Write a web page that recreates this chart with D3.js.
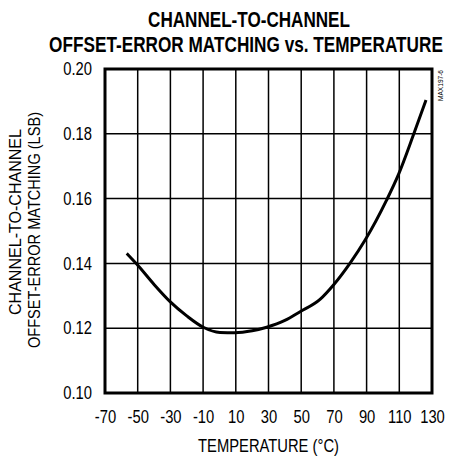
<!DOCTYPE html>
<html><head><meta charset="utf-8">
<script src="https://cdn.jsdelivr.net/npm/d3@7"></script>
<style>
body{margin:0;background:#fff;}
text{font-family:"Liberation Sans",Arial,sans-serif;fill:#000;}
</style></head>
<body>
<svg id="c" width="451" height="457"></svg>
<script>
const titleLines = ["CHANNEL-TO-CHANNEL", "OFFSET-ERROR MATCHING vs. TEMPERATURE"];
const yTitleLines = ["CHANNEL-TO-CHANNEL", "OFFSET-ERROR MATCHING (LSB)"];
const xTitle = "TEMPERATURE (°C)";
const xTicks = [-70, -50, -30, -10, 10, 30, 50, 70, 90, 110, 130];
const yTicks = [0.10, 0.12, 0.14, 0.16, 0.18, 0.20];
const temps  = [-56.7, -50.6, -40, -30.2, -20, -9.9, 0.3, 9.5, 20, 28.9, 40, 49.3, 61.5, 70, 79.9, 89.1, 102.3, 109.4, 118.6, 126.3];
const values = [0.1431, 0.1398, 0.1335, 0.1282, 0.1238, 0.1203, 0.1187, 0.1186, 0.1192, 0.1203, 0.1224, 0.1251, 0.1289, 0.1335, 0.1401, 0.1472, 0.1596, 0.1673, 0.1796, 0.1904];
const tag = "MAX197-6";

const L = 105, R = 432, T = 69, B = 393;
const SQ = 0.82; // condensed look
const svg = d3.select("#c");
const x = d3.scaleLinear().domain([-70, 130]).range([L, R]);
const y = d3.scaleLinear().domain([0.10, 0.20]).range([B, T]);

function condense(sel, k) {
  sel.each(function () {
    const w = this.getComputedTextLength();
    this.setAttribute("textLength", w * (k || SQ));
    this.setAttribute("lengthAdjust", "spacingAndGlyphs");
  });
}
function fitTo(sel, lens) {
  sel.each(function (d, i) {
    this.setAttribute("textLength", lens[i]);
    this.setAttribute("lengthAdjust", "spacingAndGlyphs");
  });
}

// title (scaled horizontally to a condensed width)
const titleCx = [249, 246], titleW = [202, 394];
svg.append("g").selectAll("text").data(titleLines).join("text")
  .attr("text-anchor", "middle").attr("font-size", 22).attr("font-weight", "bold")
  .text(d => d)
  .each(function (d, i) {
    const w = this.getComputedTextLength();
    this.setAttribute("transform", `translate(${titleCx[i]},${27 + i * 25}) scale(${titleW[i] / w},1)`);
  });

// grid
svg.append("g").selectAll("line").data(xTicks.slice(1, -1)).join("line")
  .attr("x1", d => x(d)).attr("x2", d => x(d)).attr("y1", T).attr("y2", B)
  .attr("stroke", "#000").attr("stroke-width", 1.5);
svg.append("g").selectAll("line").data(yTicks.slice(1, -1)).join("line")
  .attr("y1", d => y(d)).attr("y2", d => y(d)).attr("x1", L).attr("x2", R)
  .attr("stroke", "#000").attr("stroke-width", 1.5);

// frame
svg.append("rect").attr("x", L).attr("y", T).attr("width", R - L).attr("height", B - T)
  .attr("fill", "none").attr("stroke", "#000").attr("stroke-width", 3);

// axes labels via d3 axes
const xAxis = svg.append("g").attr("transform", `translate(0,${B})`)
  .call(d3.axisBottom(x).tickValues(xTicks).tickSize(0).tickPadding(17).tickFormat(d => String(d)));
xAxis.select(".domain").remove();
xAxis.selectAll("text").attr("font-size", 18).attr("font-family", null).call(condense);

const yAxis = svg.append("g").attr("transform", `translate(${L},0)`)
  .call(d3.axisLeft(y).tickValues(yTicks).tickSize(0).tickPadding(13).tickFormat(d3.format(".2f")));
yAxis.select(".domain").remove();
yAxis.selectAll("text").attr("font-size", 18).attr("font-family", null).call(condense);

// axis titles
svg.append("text").attr("x", (L + R) / 2).attr("y", 452).attr("text-anchor", "middle")
  .attr("font-size", 18).text(xTitle).call(condense);
svg.append("g").attr("transform", "rotate(-90)")
  .selectAll("text").data(yTitleLines).join("text")
  .attr("x", (d, i) => i ? -348 : -315).attr("y", (d, i) => i ? 40 : 21).attr("text-anchor", "start")
  .attr("font-size", 17).text(d => d).call(fitTo, [186, 236]);

// tag
svg.append("text").attr("transform", "translate(443,70) rotate(-90)")
  .attr("text-anchor", "end").attr("font-size", 8).text(tag).call(condense);

// curve
svg.append("path").datum(temps.map((t, i) => [t, values[i]]))
  .attr("fill", "none").attr("stroke", "#000").attr("stroke-width", 3)
  .attr("d", d3.line().x(d => x(d[0])).y(d => y(d[1])).curve(d3.curveMonotoneX));
</script>
</body></html>
